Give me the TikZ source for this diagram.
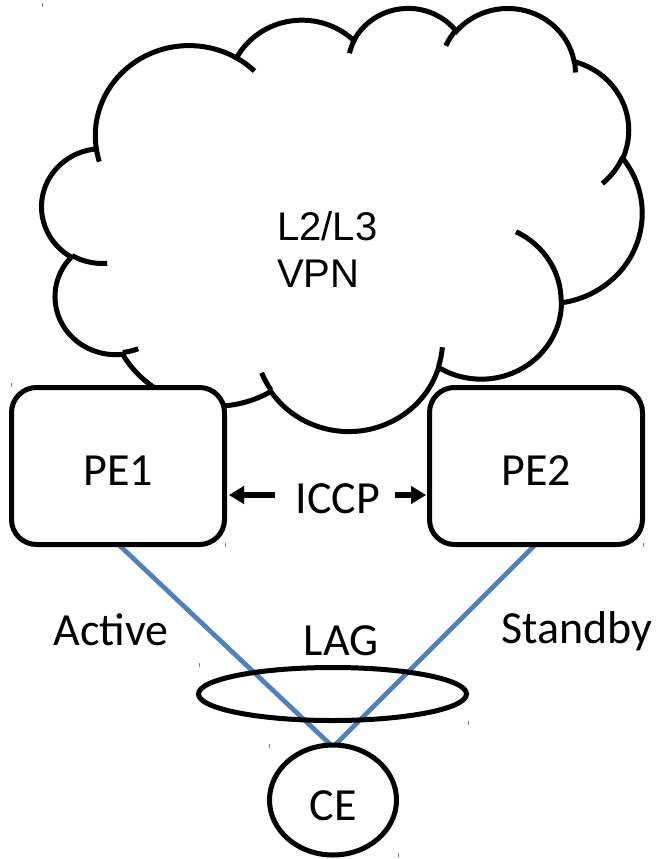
\documentclass[tikz,border=0pt]{standalone}
\usepackage{fontspec}
\setmainfont{Carlito}
\newfontfamily\arialfont{Liberation Sans}
\usetikzlibrary{arrows.meta,shapes.geometric}

\definecolor{linkblue}{HTML}{4F81BD}
\definecolor{shadowgrey}{HTML}{9A9A9A}
\definecolor{tickgrey}{HTML}{808080}

\newcommand\boxfont{\fontsize{46}{55}\selectfont}
\newcommand\vpnfont{\arialfont\fontsize{40}{46}\selectfont}

\begin{document}
\begin{tikzpicture}[x=1pt,y=-1pt,
  outline/.style={line width=5pt, draw=black},
  pebox/.style={outline, fill=white, rectangle, rounded corners=25pt,
    minimum width=213pt, minimum height=157pt, inner sep=0pt,
    text height=38pt, text depth=0pt, font=\boxfont},
  lbl/.style={anchor=base, inner sep=0pt, font=\boxfont},
  link/.style={line width=4.5pt, draw=linkblue, line join=miter},
  linkshadow/.style={line width=4.5pt, draw=shadowgrey, line join=miter},
  iccparrow/.style={line width=5.5pt, -{Triangle[length=15pt,width=17pt]}},
  tickmark/.style={line width=1pt, draw=tickgrey}
]
% page
\fill[white] (0,0) rectangle (658,859);
\useasboundingbox (0,0) rectangle (658,859);

% the VPN cloud, built from elliptic arcs in a 432 x 432 frame
\begin{scope}[xshift=42pt, yshift=-7pt, x=1.38889pt, y=-0.97917pt]
  \draw[outline, fill=white] (39,143.7)
    arc[start angle=-187.746, delta angle=128.109, x radius=67.53, y radius=91.90]
    arc[start angle=-152.019, delta angle=106.576, x radius=53.33, y radius=72.67]
    arc[start angle=-153.49,  delta angle=116.163, x radius=43.65, y radius=59.45]
    arc[start angle=-139.697, delta angle=129.486, x radius=48.57, y radius=65.95]
    arc[start angle=-74.767,  delta angle=97.978,  x radius=53.33, y radius=72.73]
    arc[start angle=-37.526,  delta angle=119.388, x radius=67.75, y radius=92.20]
    arc[start angle=0.4596,   delta angle=121.516, x radius=57.85, y radius=78.67]
    arc[start angle=16.847,   delta angle=129.418, x radius=67.52, y radius=92.15]
    arc[start angle=59.008,   delta angle=91.196,  x radius=77.20, y radius=105.43]
    arc[start angle=-276.694, delta angle=139.78,  x radius=43.60, y radius=59.18]
    arc[start angle=-239.645, delta angle=143.758, x radius=43.45, y radius=59.45]
    -- cycle;
  % inner creases of the cloud
  \draw[outline]
    (46.93,261.77)  arc[start angle=85.546,   delta angle=34.809, x radius=43.45, y radius=59.45]
    (69.28,348.99)  arc[start angle=68.25,    delta angle=15.056, x radius=43.60, y radius=59.18]
    (164.78,390.90) arc[start angle=146.265,  delta angle=12.209, x radius=67.52, y radius=92.15]
    (288.27,347.51) arc[start angle=4.738,    delta angle=12.109, x radius=67.52, y radius=92.15]
    (341.29,229.54) arc[start angle=-63.99,   delta angle=64.45,  x radius=57.85, y radius=78.67]
    (417.98,153.54) arc[start angle=23.211,   delta angle=26.449, x radius=53.33, y radius=72.73]
    (383.24,54.26)  arc[start angle=-10.211,  delta angle=11.032, x radius=48.57, y radius=65.95]
    (290.78,39.52)  arc[start angle=-156.284, delta angle=16.587, x radius=48.57, y radius=65.95]
    (221.41,47.20)  arc[start angle=-167.727, delta angle=13.814, x radius=43.65, y radius=59.45]
    (140.00,51.92)  arc[start angle=-59.637,  delta angle=13.9,   x radius=67.53, y radius=91.90]
    (41.27,157.89)  arc[start angle=163.194,  delta angle=9.06,   x radius=67.53, y radius=91.90];
\end{scope}

\node[anchor=base west, inner sep=0pt, font=\vpnfont] (vpnA) at (277,240) {L2/L3};
\node[anchor=base west, inner sep=0pt, font=\vpnfont] (vpnB) at (277,287) {VPN};

% provider edge routers
\coordinate (pe1c) at (118,466);
\coordinate (pe2c) at (536,466);
\coordinate (V) at (333,747);

% access links (drawn first so the boxes and CE sit on top)
\path (pe1c) ++(0,78) coordinate (pe1s);
\path (pe2c) ++(0,78) coordinate (pe2s);
\draw[linkshadow, shift={(0,3)}] (pe1s) -- (V) -- (pe2s);
\draw[link] (pe1s) -- (V) -- (pe2s);

\node[pebox] (PE1) at (pe1c) {PE1};
\node[pebox] (PE2) at (pe2c) {PE2};

% ICCP session
\node[lbl] (iccp) at (338,513) {ICCP};
\coordinate (lt) at (275,495);
\coordinate (ltip) at (229,495);
\coordinate (rt) at (395,495);
\coordinate (rtip) at (426,495);
\draw[iccparrow, draw=shadowgrey, fill=shadowgrey, shift={(2,2.5)}] (lt) -- (ltip);
\draw[iccparrow, draw=shadowgrey, fill=shadowgrey, shift={(2,2.5)}] (rt) -- (rtip);
\draw[iccparrow] (lt) -- (ltip);
\draw[iccparrow] (rt) -- (rtip);

% link aggregation group and customer edge
\node[ellipse, outline, minimum width=268pt, minimum height=53pt, inner sep=0pt] (lag) at (332.5,694) {};
\node[ellipse, outline, fill=white, minimum width=127pt, minimum height=110pt,
      inner sep=0pt, text height=40pt, text depth=0pt, font=\boxfont] (CE) at (333,800) {CE};

\node[lbl] (active) at (111,645) {Active};
\node[lbl] (standby) at (577,643) {Standby};
\node[lbl] (lagtxt) at (341,655) {LAG};

% corner marks of the exported shapes
\foreach \p in {(42,3), (11,383), (225,543), (643,543), (199,663), (468,721), (269,744), (398,853)}
  \draw[tickmark] \p -- ++(0,4);
\end{tikzpicture}
\end{document}
